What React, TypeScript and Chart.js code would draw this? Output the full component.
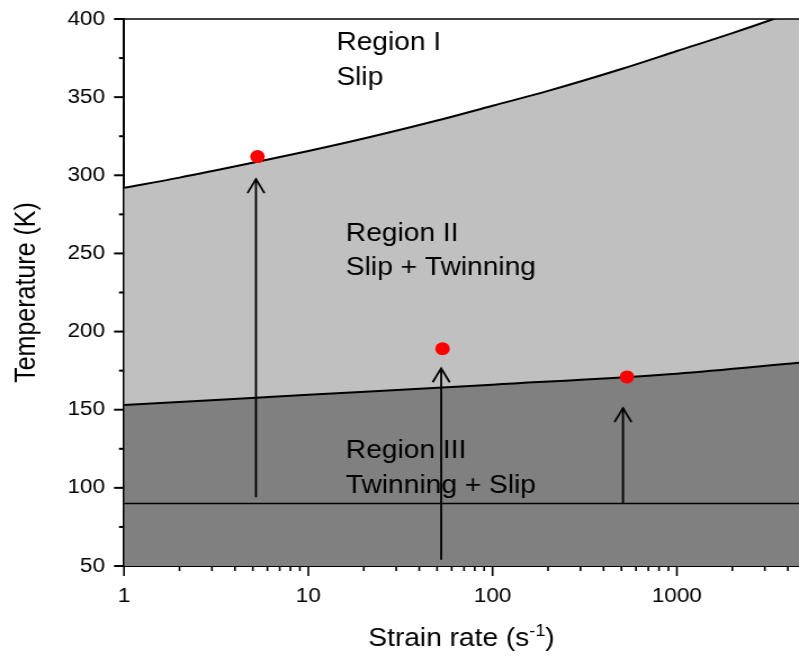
import { useEffect, useRef } from 'react';
import { Chart, registerables } from 'chart.js';

Chart.register(...registerables);

const FAMILY = '"Liberation Sans", Arial, Helvetica, sans-serif';
// The reference is horizontally stretched; render at a narrower internal width and stretch with CSS.
const CSS_W = 799;
const CSS_H = 661;
const W = 710;
const SX = CSS_W / W;

// ---- data ----
const upperX = [1, 2, 5, 10, 20, 50, 100, 200, 500, 1000, 2000, 3340, 4600];
const upperT = [292, 298.5, 308, 315.5, 323.5, 335, 344.5, 354, 368, 379.5, 391, 400, 406];

const lowerX = [1, 10, 100, 1000, 4600];
const lowerT = [153, 159.5, 166, 173, 180];

const baseX = [1, 4600];
const baseT = [90, 90];

const dotX = [5.3, 53.5, 536];
const dotT = [312, 189, 171];

const arrowX = [5.2, 52.6, 510];
const arrowFrom = [94, 54, 90];
const arrowTo = [297.5, 176.5, 151];

const regionX = [14.2, 16, 16];
const regionT = [380, 258, 119];
const regionLines = [
  ['Region I', 'Slip'],
  ['Region II', 'Slip + Twinning'],
  ['Region III', 'Twinning + Slip'],
];

const xLabelTicks = [1, 10, 100, 1000];
const xMinorTicks = [2, 3, 4, 5, 6, 7, 8, 9, 20, 30, 40, 50, 60, 70, 80, 90, 200, 300, 400, 500, 600, 700, 800, 900, 2000, 3000, 4000];
const yMajorTicks = [50, 100, 150, 200, 250, 300, 350, 400];
const yMinorTicks = [75, 125, 175, 225, 275, 325, 375];

const X_MIN = 1;
const X_MAX = 4600;
const Y_MIN = 50;
const Y_MAX = 400;

const toPts = (xs: number[], ys: number[]) => xs.map((x, i) => ({ x, y: ys[i] }));

const overlayPlugin = {
  id: 'overlay',
  afterDatasetsDraw(chart: any) {
    const { ctx, scales } = chart;
    const xs = scales.x;
    const ys = scales.y;
    ctx.save();
    // arrows
    ctx.strokeStyle = '#000';
    ctx.lineWidth = 1.8;
    arrowX.forEach((xv, i) => {
      const px = xs.getPixelForValue(xv);
      const y0 = ys.getPixelForValue(arrowFrom[i]);
      const y1 = ys.getPixelForValue(arrowTo[i]);
      ctx.beginPath();
      ctx.moveTo(px, y0);
      ctx.lineTo(px, y1);
      ctx.stroke();
      ctx.beginPath();
      ctx.moveTo(px - 8.5 / SX, y1 + 14);
      ctx.lineTo(px, y1);
      ctx.lineTo(px + 8.5 / SX, y1 + 14);
      ctx.stroke();
    });
    // region labels
    ctx.fillStyle = '#000';
    ctx.font = `25px ${FAMILY}`;
    ctx.textAlign = 'left';
    ctx.textBaseline = 'alphabetic';
    regionLines.forEach((lines, i) => {
      const px = xs.getPixelForValue(regionX[i]);
      const py = ys.getPixelForValue(regionT[i]);
      lines.forEach((t, j) => ctx.fillText(t, px, py + j * 34.5));
    });
    ctx.restore();
  },
  afterDraw(chart: any) {
    const { ctx, chartArea, scales } = chart;
    const xs = scales.x;
    const ys = scales.y;
    const { left, right, top, bottom } = chartArea;
    ctx.save();
    ctx.strokeStyle = '#000';
    // x ticks
    ctx.lineWidth = 1.6;
    xLabelTicks.forEach((v) => {
      const px = xs.getPixelForValue(v);
      ctx.beginPath();
      ctx.moveTo(px, bottom);
      ctx.lineTo(px, bottom + 10);
      ctx.stroke();
    });
    xMinorTicks.forEach((v) => {
      const px = xs.getPixelForValue(v);
      ctx.beginPath();
      ctx.moveTo(px, bottom);
      ctx.lineTo(px, bottom + 5);
      ctx.stroke();
    });
    // y ticks
    ctx.lineWidth = 2;
    yMajorTicks.forEach((v) => {
      const py = ys.getPixelForValue(v);
      ctx.beginPath();
      ctx.moveTo(left, py);
      ctx.lineTo(left - 10 / SX, py);
      ctx.stroke();
    });
    yMinorTicks.forEach((v) => {
      const py = ys.getPixelForValue(v);
      ctx.beginPath();
      ctx.moveTo(left, py);
      ctx.lineTo(left - 5 / SX, py);
      ctx.stroke();
    });
    // top frame line
    ctx.lineWidth = 1.5;
    ctx.beginPath();
    ctx.moveTo(left, top);
    ctx.lineTo(right, top);
    ctx.stroke();

    // x axis title with superscript
    const a = 'Strain rate (s';
    const sup = '-1';
    const b = ')';
    ctx.fillStyle = '#000';
    ctx.textAlign = 'left';
    ctx.textBaseline = 'alphabetic';
    ctx.font = `25px ${FAMILY}`;
    const wa = ctx.measureText(a).width;
    const wb = ctx.measureText(b).width;
    ctx.font = `16px ${FAMILY}`;
    const ws = ctx.measureText(sup).width;
    const cx = (left + right) / 2;
    const base = 646;
    const x0 = cx - (wa + ws + wb) / 2;
    ctx.font = `25px ${FAMILY}`;
    ctx.fillText(a, x0, base);
    ctx.font = `16px ${FAMILY}`;
    ctx.fillText(sup, x0 + wa, base - 10);
    ctx.font = `25px ${FAMILY}`;
    ctx.fillText(b, x0 + wa + ws, base);
    ctx.restore();
  },
};

export default function App() {
  const ref = useRef<HTMLCanvasElement | null>(null);

  useEffect(() => {
    document.body.style.margin = '0';
    document.body.style.overflow = 'hidden';
    const canvas = ref.current;
    if (!canvas) return;
    Chart.defaults.font.family = FAMILY;
    Chart.defaults.color = '#000';

    const chart = new Chart(canvas, {
      type: 'line',
      data: {
        datasets: [
          {
            label: 'points',
            data: toPts(dotX, dotT),
            showLine: false,
            pointRadius: 6.5,
            pointBackgroundColor: '#FF0000',
            pointBorderColor: '#FF0000',
            pointBorderWidth: 0,
            borderColor: '#FF0000',
            backgroundColor: '#FF0000',
            fill: false,
          },
          {
            label: 'base',
            data: toPts(baseX, baseT),
            borderColor: '#000',
            borderWidth: 1.5,
            pointRadius: 0,
            fill: false,
            clip: 0,
          },
          {
            label: 'lower',
            data: toPts(lowerX, lowerT),
            borderColor: '#000',
            borderWidth: 2,
            pointRadius: 0,
            fill: 'start',
            backgroundColor: '#808080',
            cubicInterpolationMode: 'monotone',
            clip: 0,
          },
          {
            label: 'upper',
            data: toPts(upperX, upperT),
            borderColor: '#000',
            borderWidth: 2,
            pointRadius: 0,
            fill: 2,
            backgroundColor: '#C0C0C0',
            cubicInterpolationMode: 'monotone',
            clip: 0,
          },
        ],
      } as any,
      options: {
        animation: false,
        responsive: false,
        devicePixelRatio: 1,
        events: [],
        layout: { autoPadding: false, padding: { top: 19, right: 0, left: 0, bottom: 0 } },
        plugins: {
          legend: { display: false },
          tooltip: { enabled: false },
        },
        scales: {
          x: {
            type: 'logarithmic',
            min: X_MIN,
            max: X_MAX,
            z: 1,
            grid: { display: false, drawTicks: false },
            border: { display: true, color: '#000', width: 2 },
            ticks: {
              autoSkip: false,
              maxRotation: 0,
              minRotation: 0,
              padding: 18,
              color: '#000',
              font: { family: FAMILY, size: 20 },
              callback: (v: any) => (xLabelTicks.includes(Number(v)) ? String(v) : ''),
            },
            afterFit: (s: any) => {
              s.height = CSS_H - 566;
              s.paddingLeft = 0;
              s.paddingRight = 0;
            },
          },
          y: {
            type: 'linear',
            min: Y_MIN,
            max: Y_MAX,
            z: 1,
            grid: { display: false, drawTicks: false },
            border: { display: true, color: '#000', width: 2 },
            ticks: {
              stepSize: 50,
              padding: 19 / SX,
              color: '#000',
              font: { family: FAMILY, size: 20 },
            },
            title: {
              display: true,
              text: 'Temperature (K)',
              color: '#000',
              font: { family: FAMILY, size: 25 },
              padding: { top: 27 / SX - 15, bottom: 0 },
            },
            afterFit: (s: any) => {
              s.width = 124 / SX;
              s.paddingTop = 0;
              s.paddingBottom = 0;
            },
          },
        },
      } as any,
      plugins: [overlayPlugin],
    });
    return () => chart.destroy();
  }, []);

  return (
    <canvas
      ref={ref}
      width={W}
      height={CSS_H}
      style={{ width: `${CSS_W}px`, height: `${CSS_H}px`, display: 'block' }}
    />
  );
}
